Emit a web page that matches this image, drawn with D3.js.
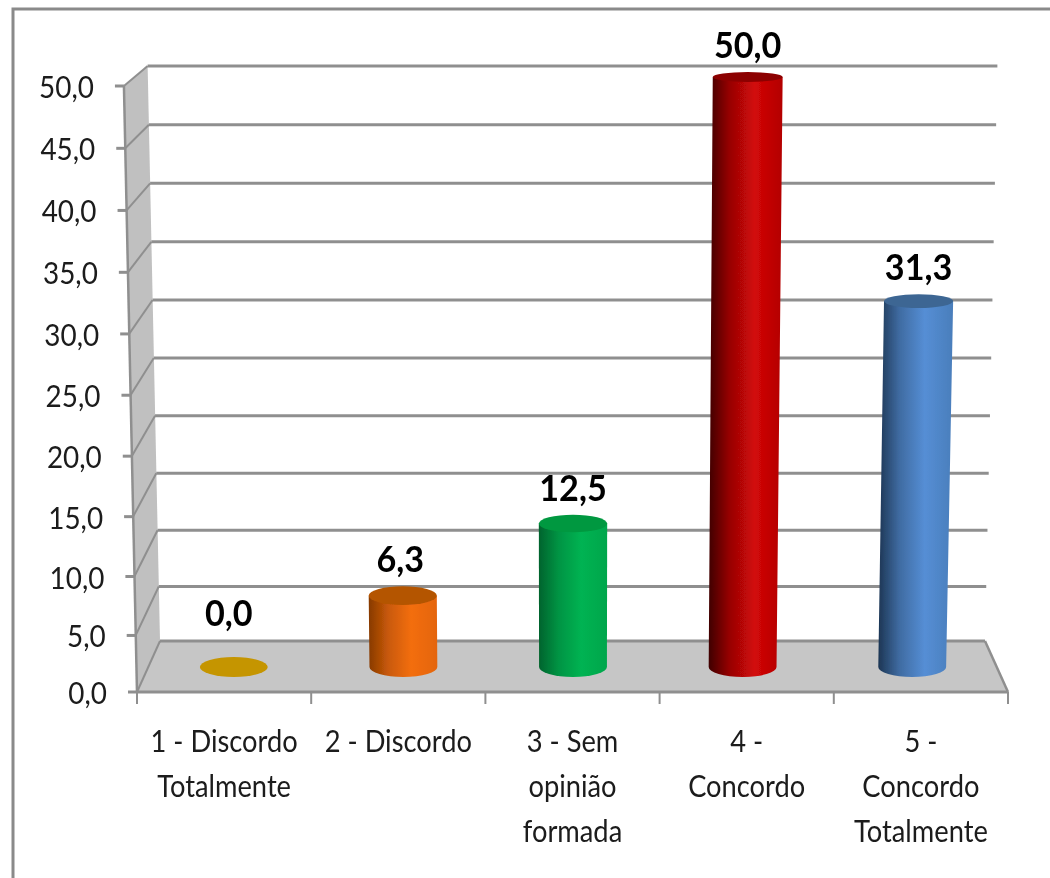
<!DOCTYPE html>
<html><head><meta charset="utf-8">
<script src="https://cdn.jsdelivr.net/npm/d3@7"></script>
<style>html,body{margin:0;padding:0;background:#fff;overflow:hidden}svg{display:block}text{font-family:Lato,"Open Sans",sans-serif}</style>
</head><body><svg id="c" width="1050" height="878"></svg>
<script>
const categories = ["1 - Discordo Totalmente","2 - Discordo","3 - Sem opinião formada","4 - Concordo","5 - Concordo Totalmente"];
const categoryLines = [["1 - Discordo","Totalmente"],["2 - Discordo"],["3 - Sem","opinião","formada"],["4 -","Concordo"],["5 -","Concordo","Totalmente"]];
const values = [0.0,6.3,12.5,50.0,31.3];
const yTicks = [0,5,10,15,20,25,30,35,40,45,50];
const barColors = [
 {dark:"#8a6800",mid:"#c59500",end:"#b88a00",top:"#c59500"},
 {dark:"#873a02",mid:"#f36e0c",end:"#e46508",top:"#b45506"},
 {dark:"#00632d",mid:"#00b352",end:"#00a64c",top:"#00983f"},
 {dark:"#3f0000",mid:"#d20808",end:"#b30000",top:"#8c0000"},
 {dark:"#1d3654",mid:"#558ed5",end:"#4a7ebb",top:"#3c6693"}
];
const svg = d3.select("#c");
const fmt = v => d3.format(".1f")(v).replace(".",",");
const yFront = d3.scalePow().exponent(1.03).domain([0,50]).range([692,86]);
const yBack  = d3.scalePow().exponent(1.023).domain([0,50]).range([641,66]);
const yBar   = d3.scalePow().exponent(1.02).domain([0,50]).range([667,77]);
const xFront = d3.scaleBand().domain(categories).range([137,1008]);
const xBack  = d3.scaleBand().domain(categories).range([149,997]);
const vanish = 572.5;
const spread = d3.scaleLinear().domain([0,50]).range([1,1.03]);
const px = (x,v) => vanish + (x-vanish)*spread(v);
const ryAt = d3.scaleLinear().domain([0,50]).range([10,5]);

const defs = svg.append("defs");
defs.append("filter").attr("id","soft").append("feGaussianBlur").attr("stdDeviation",0.6);
defs.append("filter").attr("id","softText").append("feGaussianBlur").attr("stdDeviation",0.4);
barColors.forEach((c,i)=>{
  const g = defs.append("linearGradient").attr("id","g"+i);
  [[0,c.dark],[.28,d3.interpolateRgb(c.dark,c.mid)(.6)],[.62,c.mid],[1,c.end]].forEach(s=>g.append("stop").attr("offset",s[0]).attr("stop-color",s[1]));
});

const root = svg.append("g");
const labels = svg.append("g").attr("filter","url(#softText)");
const LINE = "#8f8f8f";
// frame
root.append("path").attr("d","M13,878V9H1050").attr("fill","none").attr("stroke","#8a8a8a").attr("stroke-width",3);

const plot = root.append("g").attr("filter","url(#soft)");
const fl = (v)=>[vanish+(137-vanish)*spread(v), yFront(v)];
const bl = (v)=>[vanish+(160-vanish)*spread(v), yBack(v)];
const br = (v)=>[vanish+(985-vanish)*spread(v), yBack(v)];
// side wall
plot.append("polygon").attr("points",[fl(50),bl(50),bl(0),fl(0)].join(" ")).attr("fill","#c0c0c0");
// floor
plot.append("polygon").attr("points",[bl(0),br(0),[1008,yFront(0)],fl(0)].join(" ")).attr("fill","#c6c6c6");
// gridlines + side lines + ticks
yTicks.forEach(v=>{
  const [fx,fy]=fl(v),[bx,by]=bl(v),[rx]=br(v);
  plot.append("line").attr("x1",bx).attr("x2",rx).attr("y1",by).attr("y2",by).attr("stroke",LINE).attr("stroke-width",3);
  plot.append("line").attr("x1",fx).attr("x2",bx).attr("y1",fy).attr("y2",by).attr("stroke",LINE).attr("stroke-width",2);
  plot.append("line").attr("x1",fx-9).attr("x2",fx).attr("y1",fy).attr("y2",fy).attr("stroke",LINE).attr("stroke-width",3);
  labels.append("text").attr("transform",`translate(${fx-30},${fy+12}) scale(0.93,1)`).attr("text-anchor","end")
    .attr("font-size",30).attr("fill","#1a1a1a").text(fmt(v));
});
// front axes
plot.append("line").attr("x1",fl(50)[0]).attr("y1",fl(50)[1]).attr("x2",fl(0)[0]).attr("y2",fl(0)[1]).attr("stroke",LINE).attr("stroke-width",2.5);
plot.append("line").attr("x1",fl(0)[0]).attr("y1",yFront(0)).attr("x2",1008).attr("y2",yFront(0)).attr("stroke",LINE).attr("stroke-width",3);
plot.append("line").attr("x1",br(0)[0]).attr("y1",yBack(0)).attr("x2",1008).attr("y2",yFront(0)).attr("stroke",LINE).attr("stroke-width",2.5);
// x ticks
[...categories.map(c=>xFront(c)),xFront.range()[1]].forEach(x=>{
  plot.append("line").attr("x1",x).attr("x2",x).attr("y1",yFront(0)).attr("y2",yFront(0)+12).attr("stroke",LINE).attr("stroke-width",2);
});
// category labels
categoryLines.forEach((lines,i)=>{
  const cx = xFront(categories[i])+xFront.bandwidth()/2;
  lines.forEach((t,j)=>{
    labels.append("text").attr("transform",`translate(${cx},${752+j*45}) scale(0.91,1)`).attr("text-anchor","middle")
      .attr("font-size",30).attr("fill","#1a1a1a").text(t);
  });
});
// cylinders
const barsG = root.append("g").attr("filter","url(#soft)");
values.forEach((v,i)=>{
  const c0 = xBack(categories[i])+xBack.bandwidth()/2;
  const hw = xBack.bandwidth()/2*0.4;
  const base = yBar(0), top = yBar(v), rb = ryAt(0), rt = ryAt(v);
  const blx=px(c0-hw,0), brx=px(c0+hw,0), tlx=px(c0-hw,v), trx=px(c0+hw,v);
  if(v>0){
    barsG.append("path").attr("d",`M${tlx},${top}L${blx},${base}A${hw},${rb} 0 0 0 ${brx},${base}L${trx},${top}Z`).attr("fill",`url(#g${i})`);
    barsG.append("ellipse").attr("cx",(tlx+trx)/2).attr("cy",top).attr("rx",(trx-tlx)/2).attr("ry",rt).attr("fill",barColors[i].top);
  } else {
    barsG.append("ellipse").attr("cx",c0).attr("cy",base).attr("rx",hw).attr("ry",rb).attr("fill",barColors[i].top);
  }
  const lx = (tlx+trx)/2 - 5*Math.max(0,1-v/12.5);
  const ly = v>0 ? top-rt-14 : base-rb-31;
  labels.append("text").attr("transform",`translate(${lx},${ly}) scale(0.95,1)`).attr("text-anchor","middle")
    .attr("font-size",36).attr("font-weight",700).attr("fill","#000").text(fmt(v));
});
</script></body></html>
